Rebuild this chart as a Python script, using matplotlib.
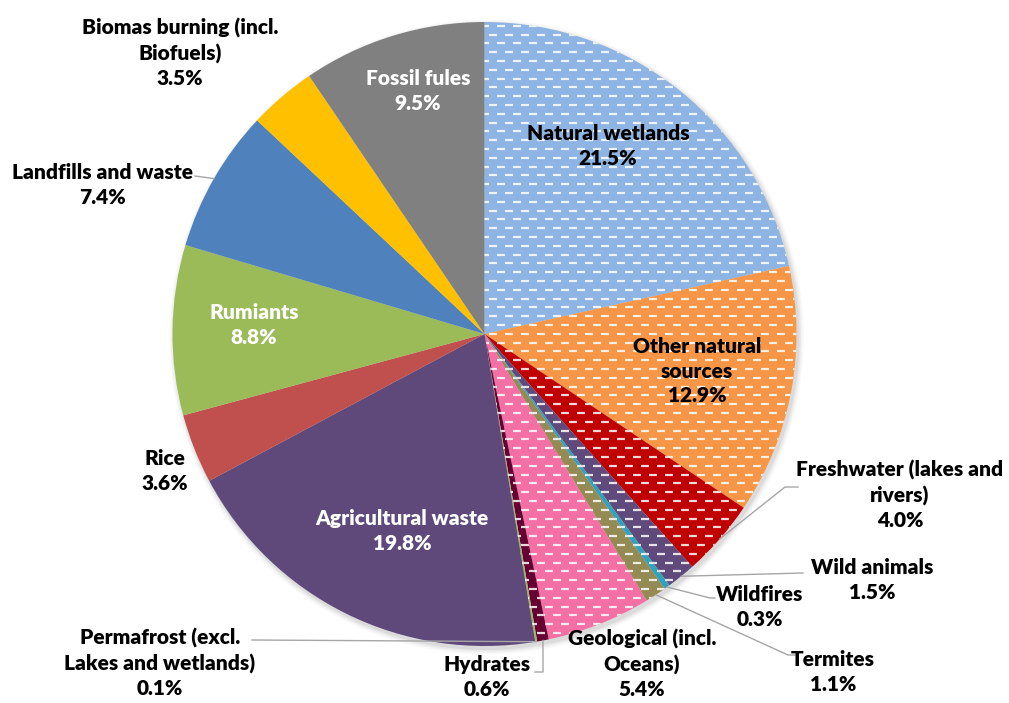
import numpy as np
import matplotlib
matplotlib.use("Agg")
import matplotlib.pyplot as plt
from matplotlib.collections import LineCollection
from matplotlib.patches import Circle

# Global methane sources (share of total emissions, %)
sources = [
    "Natural wetlands", "Other natural\nsources", "Freshwater (lakes and\nrivers)",
    "Wild animals", "Wildfires", "Termites", "Geological (incl.\nOceans)",
    "Hydrates", "Permafrost (excl.\nLakes and wetlands)", "Agricultural waste",
    "Rice", "Rumiants", "Landfills and waste", "Biomas burning (incl.\nBiofuels)",
    "Fossil fules",
]
shares = [21.5, 12.9, 4.0, 1.5, 0.3, 1.1, 5.4, 0.6, 0.1, 19.8, 3.6, 8.8, 7.4, 3.5, 9.5]
natural = [True, True, True, True, True, True, True, True, True,
           False, False, False, False, False, False]
colors = ["#8DB4E2", "#F79646", "#C00000", "#604A7B", "#31A2BC", "#948A54",
          "#F36FA4", "#660033", "#9BBB59", "#5F497A", "#C0504D", "#9BBB59",
          "#4F81BD", "#FFC000", "#808080"]

W, H = 1009, 703
fig = plt.figure(figsize=(W / 100, H / 100), dpi=100)
ax = fig.add_axes([0, 0, 1, 1])

def Y(py):
    return H - py

CX, CY, R = 484.5, 334, 312
center = (CX, Y(CY))

# soft drop shadow behind the pie
for k, a in enumerate([0.05, 0.04, 0.03, 0.02]):
    ax.add_patch(Circle((CX + 2, Y(CY) - 3), R + 1.5 * k + 1, color="black",
                        alpha=a, lw=0, zorder=0))

wedges, _ = ax.pie(shares, colors=colors, startangle=90, counterclock=False,
                   radius=R, center=center, wedgeprops=dict(lw=0))
for w in wedges:
    w.set_zorder(1)

# dashed pattern fill for natural sources
segs = []
row_gap, dash, period = 8.8, 8.0, 16.0
ys = np.arange(CY - R - 5, CY + R + 5, row_gap)
for i, py in enumerate(ys):
    off = 0 if i % 2 == 0 else period / 2
    xs = np.arange(CX - R - 20 + off, CX + R + 20, period)
    for x0 in xs:
        segs.append([(x0, Y(py)), (x0 + dash, Y(py))])
for w, nat in zip(wedges, natural):
    if nat:
        lc = LineCollection(segs, colors="white", linewidths=1.6, alpha=0.85,
                            zorder=2)
        ax.add_collection(lc)
        lc.set_clip_path(w)

ax.set_xlim(0, W)
ax.set_ylim(0, H)
ax.set_aspect("equal")
ax.axis("off")

# label placement (pixel positions of text centres) and text colours
label_pos = [(608, 146), (697, 371), (900, 495), (872, 580), (760, 607),
             (833, 672), (642, 664), (487, 677), (160, 663), (402, 531),
             (165, 471), (254, 325), (102, 185), (180, 53), (418, 91)]
label_col = ["black", "black", "black", "black", "black", "black", "black",
             "black", "black", "white", "black", "white", "black", "black",
             "white"]

for name, val, (px, py), c in zip(sources, shares, label_pos, label_col):
    ax.text(px, Y(py), f"{name}\n{val:.1f}%", ha="center", va="center",
            fontsize=15, fontweight="heavy", color=c, family="Lato",
            linespacing=1.36, zorder=5)

# leader lines: start on the wedge edge at its mid-angle
cum = np.cumsum([0] + shares)
mid_ang = {s: np.deg2rad(90 - 3.6 * (cum[i] + shares[i] / 2))
           for i, s in enumerate(sources)}

def edge(name):
    a = mid_ang[name]
    return (CX + R * np.cos(a), CY - R * np.sin(a))

leaders = {
    sources[2]: [(785, 487), (798, 487)],
    sources[3]: [(803, 573)],
    sources[4]: [(710, 598), (715, 598)],
    sources[5]: [(788, 655), (795, 655)],
    sources[7]: [(543, 672), (535, 672)],
    sources[8]: [(252, 640)],
    sources[12]: [(195, 176)],
}
for name, pts in leaders.items():
    p = [edge(name)] + pts
    ax.plot([q[0] for q in p], [Y(q[1]) for q in p], color="#A6A6A6", lw=1,
            zorder=4)

fig.savefig("out.png", dpi=100, facecolor="white")
